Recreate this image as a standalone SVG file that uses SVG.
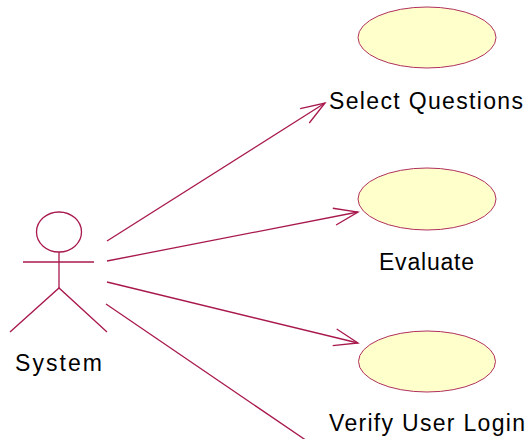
<svg xmlns="http://www.w3.org/2000/svg" width="528" height="439" viewBox="0 0 528 439">
  <style>
    .uc { fill: #FFFFCC; stroke: #B0305E; stroke-width: 1; }
    .actor { fill: none; stroke: #A8184C; stroke-width: 1.3; }
    .assoc { fill: none; stroke: #A8184C; stroke-width: 1.3; marker-end: url(#open); }
    .lbl { font-family: "Liberation Sans", Arial, sans-serif; font-size: 23px; fill: #000; }
  </style>
  <defs>
    <marker id="open" markerUnits="userSpaceOnUse" markerWidth="30" markerHeight="24" viewBox="-27 -12 30 24" refX="0" refY="0" orient="auto" overflow="visible">
      <path d="M -24,-8.5 L 0,0 L -24,8.5" fill="none" stroke="#A8184C" stroke-width="1.3"/>
    </marker>
  </defs>
  <rect width="528" height="439" fill="#fff"/>

  <g id="actor-system">
    <ellipse class="actor" cx="59" cy="232" rx="22.5" ry="20"/>
    <line class="actor" x1="23" y1="262" x2="94" y2="262"/>
    <line class="actor" x1="59" y1="252" x2="59" y2="288"/>
    <polyline class="actor" points="10,332 59,288 107,332"/>
    <text class="lbl" x="15" y="371" textLength="87" lengthAdjust="spacing">System</text>
  </g>

  <g id="uc-select-questions">
    <ellipse class="uc" cx="427" cy="37.5" rx="69" ry="30.5"/>
    <text class="lbl" x="329" y="109" textLength="194" lengthAdjust="spacing">Select Questions</text>
  </g>

  <g id="uc-evaluate">
    <ellipse class="uc" cx="427" cy="199" rx="69" ry="31"/>
    <text class="lbl" x="379" y="270" textLength="95" lengthAdjust="spacing">Evaluate</text>
  </g>

  <g id="uc-verify-login">
    <ellipse class="uc" cx="427" cy="361.5" rx="68.5" ry="30.5"/>
    <text class="lbl" x="329" y="431" textLength="196" lengthAdjust="spacing">Verify User Login</text>
  </g>

  <g id="connectors">
    <line class="assoc" x1="107" y1="241" x2="325" y2="103"/>
    <line class="assoc" x1="107" y1="261" x2="358" y2="212"/>
    <line class="assoc" x1="107" y1="282" x2="358" y2="343"/>
    <line class="actor" x1="106" y1="304" x2="310" y2="443"/>
  </g>
</svg>
